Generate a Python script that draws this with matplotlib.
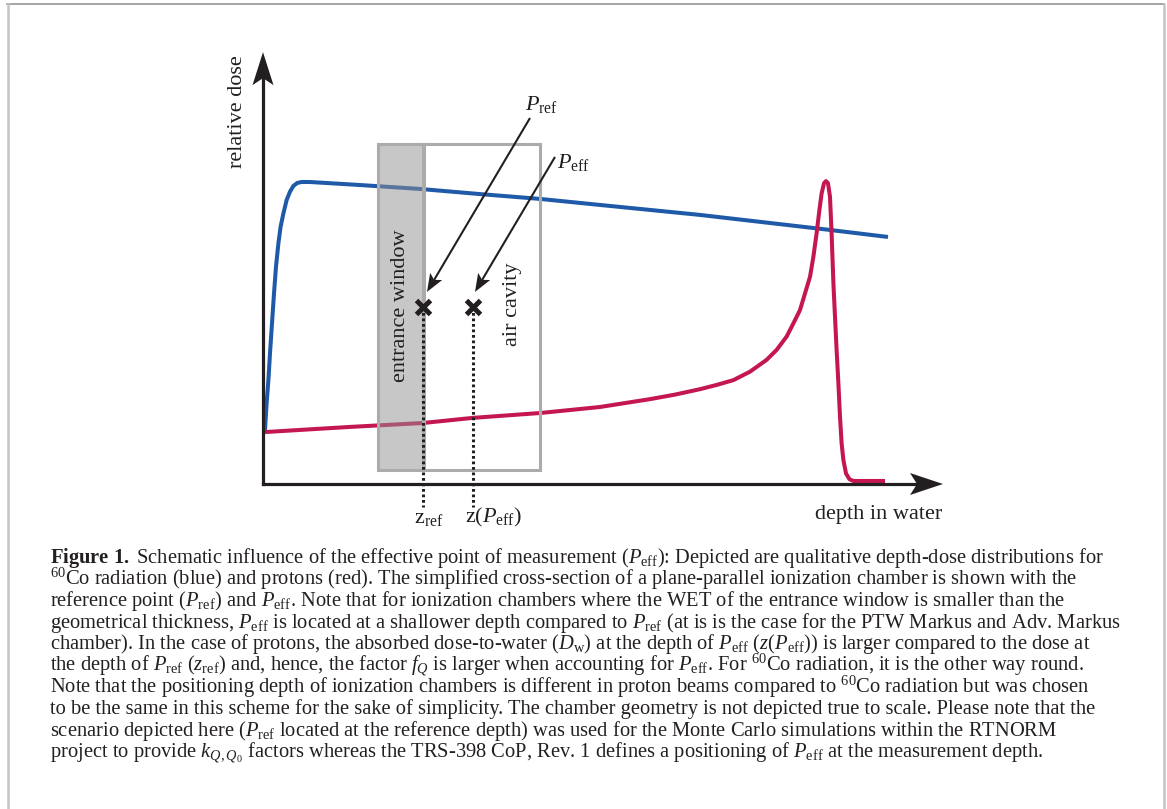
import numpy as np
import matplotlib
matplotlib.use('Agg')
import matplotlib.pyplot as plt
from matplotlib.patches import Rectangle, Polygon
from matplotlib.lines import Line2D
from matplotlib.transforms import IdentityTransform

plt.rcParams['font.family'] = ['Liberation Serif', 'DejaVu Serif']
plt.rcParams['mathtext.fontset'] = 'custom'
plt.rcParams['mathtext.rm'] = 'Liberation Serif'
plt.rcParams['mathtext.it'] = 'Liberation Serif:italic'
plt.rcParams['mathtext.bf'] = 'Liberation Serif:bold'

# --- schematic depth-dose curves (depth in arbitrary units, dose relative to maximum) ---
co60_depth = [0.10, 0.18, 0.27, 0.35, 0.45, 0.55, 0.65, 0.77, 0.88, 1.02, 1.18, 1.35,
              1.52, 1.72, 1.93, 2.35, 4.85, 7.85, 10.85, 13.85, 16.85, 21.85, 28.0, 31.25]
co60_dose = [0.179, 0.267, 0.344, 0.433, 0.532, 0.631, 0.720, 0.797, 0.852, 0.896, 0.940,
             0.968, 0.987, 0.997, 1.000, 1.000, 0.990, 0.977, 0.960, 0.944, 0.924, 0.891,
             0.844, 0.818]

proton_depth = [0.10, 4.35, 8.0, 10.5, 13.85, 16.85, 18.1, 19.35, 20.6, 21.85, 22.68, 23.52,
                24.35, 25.18, 25.68, 26.18, 26.52, 26.85, 27.1, 27.35, 27.52, 27.68, 27.82,
                27.93, 28.05, 28.15, 28.25, 28.35, 28.43, 28.52, 28.6, 28.68, 28.77, 28.85,
                28.93, 29.02, 29.15, 29.32, 29.52, 31.1]
proton_dose = [0.172, 0.189, 0.202, 0.219, 0.235, 0.255, 0.268, 0.281, 0.296, 0.314, 0.328,
               0.344, 0.372, 0.411, 0.444, 0.488, 0.532, 0.576, 0.631, 0.686, 0.753, 0.830,
               0.907, 0.962, 0.996, 1.003, 0.996, 0.951, 0.830, 0.665, 0.554, 0.444, 0.333,
               0.223, 0.135, 0.079, 0.035, 0.016, 0.010, 0.010]

# chamber geometry and points of measurement
window_front, window_back, cavity_back = 5.75, 8.0, 13.85
chamber_bottom, chamber_top = 0.046, 1.126
z_ref, z_eff = 8.0, 10.5
marker_dose = 0.586

caption_lines = [
    r"$\mathbf{Figure\ 1.\ }$Schematic influence of the effective point of measurement ($P_\mathrm{eff}$): Depicted are qualitative depth-dose distributions for",
    r"$^{60}$Co radiation (blue) and protons (red). The simplified cross-section of a plane-parallel ionization chamber is shown with the",
    r"reference point ($P_\mathrm{ref}$) and $P_\mathrm{eff}$. Note that for ionization chambers where the WET of the entrance window is smaller than the",
    r"geometrical thickness, $P_\mathrm{eff}$ is located at a shallower depth compared to $P_\mathrm{ref}$ (at is is the case for the PTW Markus and Adv. Markus",
    r"chamber). In the case of protons, the absorbed dose-to-water ($D_\mathrm{w}$) at the depth of $P_\mathrm{eff}$ ($z(P_\mathrm{eff})$) is larger compared to the dose at",
    r"the depth of $P_\mathrm{ref}$ ($z_\mathrm{ref}$) and, hence, the factor $f_Q$ is larger when accounting for $P_\mathrm{eff}$. For $^{60}$Co radiation, it is the other way round.",
    r"Note that the positioning depth of ionization chambers is different in proton beams compared to $^{60}$Co radiation but was chosen",
    r"to be the same in this scheme for the sake of simplicity. The chamber geometry is not depicted true to scale. Please note that the",
    r"scenario depicted here ($P_\mathrm{ref}$ located at the reference depth) was used for the Monte Carlo simulations within the RTNORM",
    r"project to provide $k_{Q,Q_0}$ factors whereas the TRS-398 CoP, Rev. 1 defines a positioning of $P_\mathrm{eff}$ at the measurement depth.",
]

W, H = 1167, 809
ORIGIN = (263, 484)        # pixel position of the axes corner
PX_DEPTH, PX_DOSE = 20.0, 302.0

BLUE = '#1F5AA8'
RED = '#C4174F'
INK = '#231F20'
GREY_EDGE = '#ABABAB'

fig = plt.figure(figsize=(W / 100, H / 100), dpi=100)
ax = fig.add_axes([0, 0, 1, 1])
ax.set_xlim(-ORIGIN[0] / PX_DEPTH, (W - ORIGIN[0]) / PX_DEPTH)
ax.set_ylim((ORIGIN[1] - H) / PX_DOSE, ORIGIN[1] / PX_DOSE)
ax.axis('off')


def arrow_head(tip, tail, length, half_width, notch, color=INK, z=6):
    """Swept-back arrowhead drawn in pixel units; returns the notch point in data units."""
    tx, ty = ax.transData.transform(tip)
    fx, fy = ax.transData.transform(tail)
    ang = np.arctan2(ty - fy, tx - fx)
    c, s = np.cos(ang), np.sin(ang)
    local = np.array([[0, 0], [-length, half_width], [-length + notch, 0], [-length, -half_width]])
    rot = np.array([[c, -s], [s, c]])
    verts = local @ rot.T + [tx, ty]
    ax.add_patch(Polygon(verts, closed=True, facecolor=color, edgecolor='none',
                         transform=IdentityTransform(), zorder=z))
    return ax.transData.inverted().transform(verts[2])


def pointer(tip, tail, lw=1.5):
    base = arrow_head(tip, tail, 18, 7, 4)
    ax.plot([tail[0], base[0]], [tail[1], base[1]], color=INK, lw=lw,
            solid_capstyle='butt', zorder=6)


# axes with arrowheads
x_end, y_end = 34.0, 1.430
xb = arrow_head((x_end, 0), (0, 0), 33, 11, 7)
yb = arrow_head((0, y_end), (0, 0), 33, 10.5, 7)
ax.plot([0, xb[0]], [0, 0], color=INK, lw=2.3, solid_capstyle='projecting', zorder=5)
ax.plot([0, 0], [0, yb[1]], color=INK, lw=2.3, solid_capstyle='projecting', zorder=5)

# depth-dose curves
ax.plot(co60_depth, co60_dose, color=BLUE, lw=2.9, solid_joinstyle='round',
        solid_capstyle='butt', zorder=2)
ax.plot(proton_depth, proton_dose, color=RED, lw=2.9, solid_joinstyle='round',
        solid_capstyle='butt', zorder=2)

# chamber: entrance window (shaded) and air cavity
ax.add_patch(Rectangle((window_front, chamber_bottom), window_back - window_front,
                       chamber_top - chamber_bottom, facecolor='#919193', alpha=0.5,
                       edgecolor='none', zorder=3))
ax.add_patch(Rectangle((window_front, chamber_bottom), window_back - window_front,
                       chamber_top - chamber_bottom, facecolor='none',
                       edgecolor=GREY_EDGE, lw=2.2, zorder=3))
ax.add_patch(Rectangle((window_back + 0.05, chamber_bottom), cavity_back - window_back - 0.05,
                       chamber_top - chamber_bottom, facecolor='none',
                       edgecolor=GREY_EDGE, lw=2.2, zorder=3))

ax.text(6.85, 0.589, 'entrance window', rotation=90, ha='center', va='center',
        fontsize=16, color=INK, zorder=4)
ax.text(12.45, 0.596, 'air cavity', rotation=90, ha='center', va='center',
        fontsize=16, color=INK, zorder=4)

# measurement points with dotted projections onto the depth axis
for z in (z_ref, z_eff):
    ax.plot([z, z], [marker_dose, -0.076], color=INK, lw=2.2, dashes=(0.9, 0.9), zorder=5)
ax.plot([z_ref, z_eff], [marker_dose, marker_dose], linestyle='none', marker='x',
        markersize=10.5, mew=3.6, color=INK, zorder=7)

pointer((8.2, 0.636), (13.35, 1.212))
pointer((10.6, 0.636), (14.6, 1.083))
ax.text(13.1, 1.238, r'$P_\mathrm{ref}$', fontsize=16, ha='left', va='baseline', color=INK)
ax.text(14.7, 1.046, r'$P_\mathrm{eff}$', fontsize=16, ha='left', va='baseline', color=INK)

ax.text(8.3, -0.129, r'z$_\mathrm{ref}$', fontsize=16, ha='center', va='baseline', color=INK)
ax.text(11.55, -0.129, r'z($P_\mathrm{eff}$)', fontsize=16, ha='center', va='baseline', color=INK)
ax.text(-1.3, 1.232, 'relative dose', rotation=90, fontsize=16, ha='center', va='center', color=INK)
ax.text(30.8, -0.116, 'depth in water', fontsize=16, ha='center', va='baseline', color=INK)

# caption
for i, line in enumerate(caption_lines):
    y = 563 + 21.6 * i
    fig.text(50 / W, 1 - y / H, line, fontsize=14.8, ha='left', va='baseline', color=INK)

# page frame
fig.add_artist(Line2D([7 / W, 1164 / W], [1 - 4 / H, 1 - 4 / H], color='#8C8C8C', lw=1.1))
fig.add_artist(Line2D([7.5 / W, 7.5 / W], [0, 1 - 4 / H], color='#C4C4C4', lw=1.8))
fig.add_artist(Line2D([1163.5 / W, 1163.5 / W], [0, 1 - 4 / H], color='#C4C4C4', lw=1.8))

fig.savefig('out.png', dpi=100)
